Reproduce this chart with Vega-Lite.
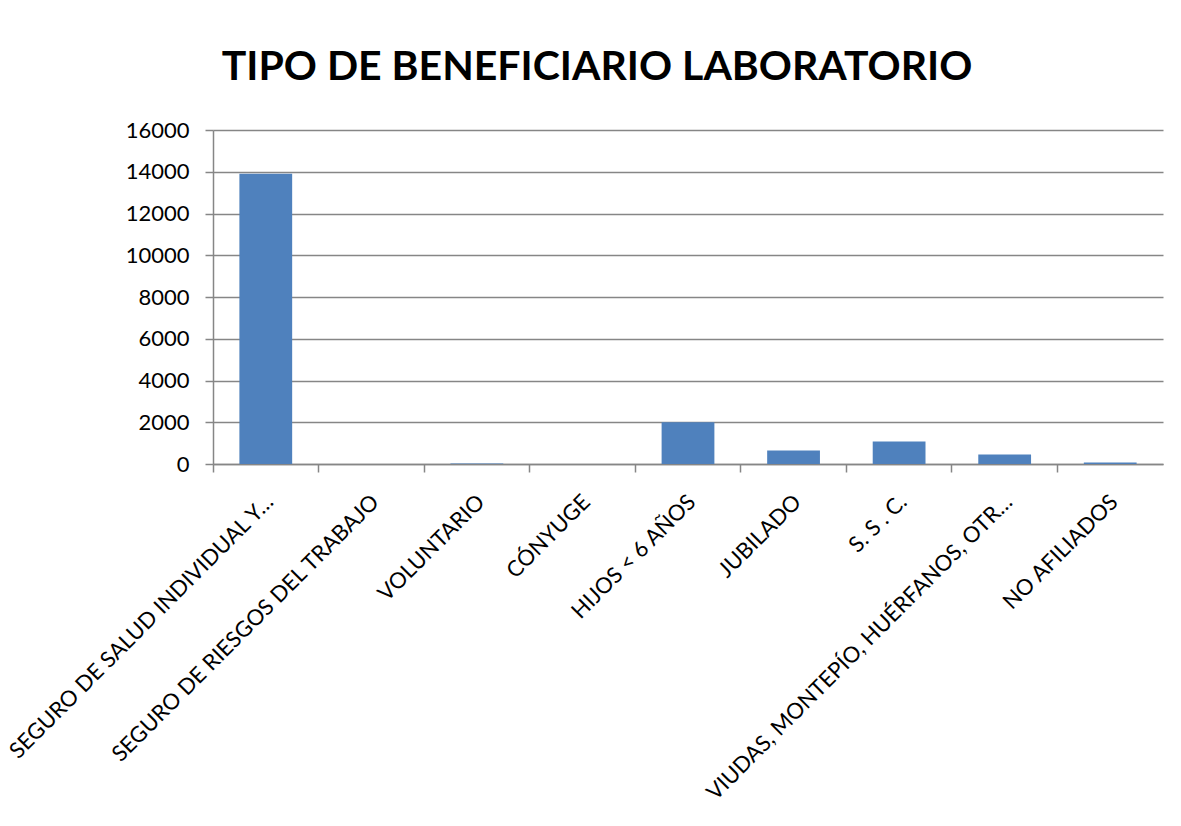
{
  "$schema": "https://vega.github.io/schema/vega-lite/v6.json",
  "autosize": "none",
  "width": 950,
  "height": 334,
  "padding": {"left": 213, "top": 130, "right": 18, "bottom": 362},
  "background": "white",
  "title": {
    "text": "TIPO DE BENEFICIARIO LABORATORIO",
    "font": "Lato",
    "fontSize": 41,
    "fontWeight": "bold",
    "color": "black",
    "anchor": "middle",
    "dx": -91,
    "offset": 30
  },
  "data": {
    "values": [
      {"tipo": "SEGURO DE SALUD INDIVIDUAL Y…", "valor": 13900},
      {"tipo": "SEGURO  DE RIESGOS DEL TRABAJO", "valor": 4},
      {"tipo": "VOLUNTARIO", "valor": 20},
      {"tipo": "CÓNYUGE", "valor": 3},
      {"tipo": "HIJOS < 6 AÑOS", "valor": 2000},
      {"tipo": "JUBILADO", "valor": 650},
      {"tipo": "S. S . C.", "valor": 1080},
      {"tipo": "VIUDAS, MONTEPÍO, HUÉRFANOS, OTR…", "valor": 450},
      {"tipo": "NO AFILIADOS", "valor": 70}
    ]
  },
  "mark": {"type": "bar", "color": "#4F81BD", "width": {"band": 0.5}},
  "encoding": {
    "x": {
      "field": "tipo",
      "type": "nominal",
      "sort": null,
      "scale": {"paddingInner": 0, "paddingOuter": 0},
      "axis": {
        "title": null,
        "bandPosition": 0,
        "labelOffset": 4,
        "labelAngle": -45,
        "labelAlign": "right",
        "labelBaseline": "middle",
        "labelFont": "Lato",
        "labelFontSize": 22,
        "labelColor": "black",
        "labelLimit": 0,
        "labelPadding": 26,
        "tickSize": 8,
        "tickColor": "#868686",
        "tickWidth": 1.5,
        "domainColor": "#868686",
        "domainWidth": 1.5,
        "grid": false
      }
    },
    "y": {
      "field": "valor",
      "type": "quantitative",
      "scale": {"domain": [0, 16000], "nice": false},
      "axis": {
        "title": null,
        "values": [0, 2000, 4000, 6000, 8000, 10000, 12000, 14000, 16000],
        "format": "d",
        "labelFont": "Lato",
        "labelFontSize": 22,
        "labelColor": "black",
        "labelPadding": 16,
        "tickSize": 8,
        "tickColor": "#868686",
        "tickWidth": 1.5,
        "domainColor": "#868686",
        "domainWidth": 1.5,
        "grid": true,
        "gridColor": "#868686",
        "gridWidth": 1.5
      }
    }
  },
  "config": {"view": {"stroke": null}}
}
